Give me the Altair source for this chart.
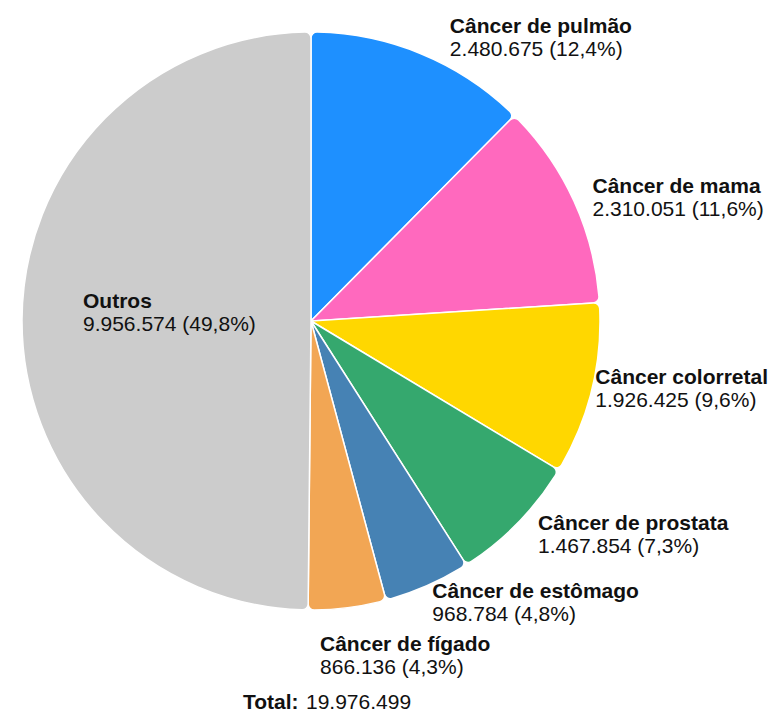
import altair as alt
import pandas as pd

categories = ["Câncer de pulmão", "Câncer de mama", "Câncer colorretal",
              "Câncer de prostata", "Câncer de estômago", "Câncer de fígado", "Outros"]
values = [2480675, 2310051, 1926425, 1467854, 968784, 866136, 9956574]
colors = ["#1E90FF", "#FF69BE", "#FFD700", "#35A86E", "#4682B4", "#F2A654", "#CCCCCC"]

total = sum(values)


def fmt_int(v):
    return f"{v:,}".replace(",", ".")


def fmt_pct(v):
    return format(round(v / total * 100, 1), ".1f").replace(".", ",") + "%"


df = pd.DataFrame({
    "idx": list(range(len(categories))),
    "category": categories,
    "value": values,
    "valtxt": [f"{fmt_int(v)} ({fmt_pct(v)})" for v in values],
})

FONT = "Liberation Sans"
FS = 21
R = 289
CX, CY = 303, 313  # pie centre inside the view
TXT = "#111111"

base = alt.Chart(df).transform_window(
    cum="sum(value)", sort=[alt.SortField("idx")], frame=[None, 0]
).transform_calculate(mid="datum.cum - datum.value / 2")

arcs = alt.Chart(df).mark_arc(
    outerRadius=R, cornerRadius=6, stroke="white", strokeWidth=1.5
).encode(
    theta=alt.Theta("value:Q", stack=True),
    order=alt.Order("idx:Q"),
    color=alt.Color("category:N", scale=alt.Scale(domain=categories, range=colors), legend=None),
    x=alt.value(CX),
    y=alt.value(CY),
)


def labels(name, radius, dx=0, dy=0):
    sel = base.transform_filter(alt.datum.category == name)
    enc = dict(theta=alt.Theta("mid:Q", stack=None), x=alt.value(CX), y=alt.value(CY))
    t1 = sel.mark_text(radius=radius, align="left", baseline="middle", dx=dx, dy=dy - 11.5,
                       font=FONT, fontSize=FS, fontWeight="bold", color=TXT).encode(
        text="category:N", **enc)
    t2 = sel.mark_text(radius=radius, align="left", baseline="middle", dx=dx, dy=dy + 11.5,
                       font=FONT, fontSize=FS, color=TXT).encode(
        text="valtxt:N", **enc)
    return [t1, t2]


layers = [arcs]
layers += labels("Câncer de pulmão", 306, dx=22.5, dy=0.5)
layers += labels("Câncer de mama", 306, dx=3, dy=4)
layers += labels("Câncer colorretal", 306, dx=-13, dy=-4)
layers += labels("Câncer de prostata", 306, dx=8, dy=1)
layers += labels("Câncer de estômago", 306, dx=-2, dy=2)
layers += labels("Câncer de fígado", 306, dx=-29.5, dy=32)
layers += labels("Outros", 228, dy=-6.5)

tot_df = pd.DataFrame({"a": ["Total:"], "b": [fmt_int(total)]})
tot1 = alt.Chart(tot_df).mark_text(align="left", baseline="alphabetic", font=FONT, fontSize=21,
                                    fontWeight="bold", color=TXT).encode(
    text="a:N", x=alt.value(235), y=alt.value(701))
tot2 = alt.Chart(tot_df).mark_text(align="left", baseline="alphabetic", font=FONT, fontSize=21,
                                    color=TXT).encode(
    text="b:N", x=alt.value(298), y=alt.value(701))
layers += [tot1, tot2]

chart = alt.layer(*layers).properties(
    width=761, height=704, padding=0, autosize=alt.AutoSizeParams(type="none")
).configure_view(stroke=None)

chart.save("out.html", embed_options={"renderer": "svg", "actions": False})
